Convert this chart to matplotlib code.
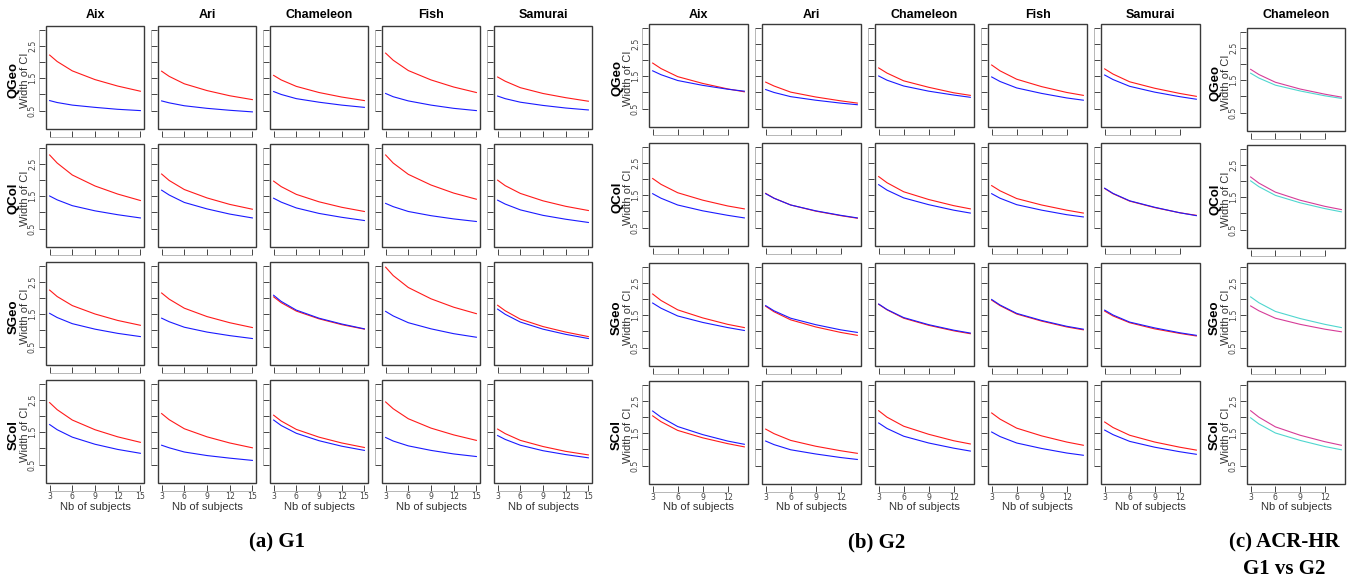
import matplotlib
matplotlib.use("Agg")
import matplotlib.pyplot as plt
from matplotlib.patches import Rectangle

W, H = 1351, 579

sites = ["Aix", "Ari", "Chameleon", "Fish", "Samurai"]
metrics = ["QGeo", "QCol", "SGeo", "SCol"]

n_g1 = [3, 4, 6, 9, 12, 15]
n_g2 = [3, 4, 6, 9, 12, 14]

# ---- (a) G1 : red / blue per site ----
g1_red_qgeo = [
    [2.22, 2.02, 1.73, 1.46, 1.26, 1.10],
    [1.72, 1.56, 1.33, 1.12, 0.96, 0.84],
    [1.59, 1.45, 1.25, 1.06, 0.92, 0.81],
    [2.28, 2.06, 1.74, 1.45, 1.23, 1.06],
    [1.54, 1.41, 1.21, 1.03, 0.90, 0.79],
]
g1_blue_qgeo = [
    [0.81, 0.75, 0.67, 0.60, 0.54, 0.50],
    [0.80, 0.74, 0.65, 0.57, 0.51, 0.46],
    [1.09, 1.00, 0.87, 0.76, 0.67, 0.60],
    [1.03, 0.93, 0.80, 0.67, 0.57, 0.50],
    [0.95, 0.87, 0.76, 0.66, 0.58, 0.52],
]
g1_red_qcol = [
    [2.78, 2.53, 2.16, 1.82, 1.57, 1.37],
    [2.19, 1.99, 1.71, 1.45, 1.25, 1.10],
    [1.97, 1.80, 1.56, 1.33, 1.16, 1.03],
    [2.78, 2.53, 2.18, 1.85, 1.60, 1.41],
    [2.00, 1.83, 1.59, 1.36, 1.19, 1.06],
]
g1_blue_qcol = [
    [1.51, 1.39, 1.21, 1.05, 0.93, 0.83],
    [1.69, 1.54, 1.31, 1.11, 0.95, 0.83],
    [1.44, 1.32, 1.14, 0.97, 0.85, 0.75],
    [1.28, 1.18, 1.03, 0.90, 0.80, 0.72],
    [1.38, 1.26, 1.08, 0.91, 0.79, 0.69],
]
g1_red_sgeo = [
    [2.25, 2.05, 1.77, 1.51, 1.31, 1.16],
    [2.16, 1.97, 1.69, 1.43, 1.24, 1.09],
    [2.04, 1.86, 1.60, 1.36, 1.18, 1.04],
    [2.96, 2.70, 2.33, 1.98, 1.72, 1.52],
    [1.78, 1.61, 1.35, 1.12, 0.95, 0.81],
]
g1_blue_sgeo = [
    [1.53, 1.40, 1.21, 1.04, 0.91, 0.81],
    [1.38, 1.27, 1.10, 0.95, 0.84, 0.75],
    [2.09, 1.90, 1.63, 1.38, 1.20, 1.05],
    [1.59, 1.45, 1.24, 1.05, 0.90, 0.79],
    [1.66, 1.50, 1.26, 1.04, 0.88, 0.75],
]
g1_red_scol = [
    [2.42, 2.20, 1.88, 1.58, 1.36, 1.19],
    [2.08, 1.89, 1.61, 1.36, 1.17, 1.02],
    [2.03, 1.85, 1.59, 1.35, 1.17, 1.03],
    [2.44, 2.23, 1.92, 1.63, 1.42, 1.25],
    [1.60, 1.46, 1.25, 1.06, 0.91, 0.80],
]
g1_blue_scol = [
    [1.74, 1.58, 1.35, 1.13, 0.97, 0.85],
    [1.10, 1.02, 0.89, 0.78, 0.70, 0.63],
    [1.88, 1.71, 1.47, 1.24, 1.07, 0.94],
    [1.34, 1.23, 1.08, 0.94, 0.83, 0.75],
    [1.40, 1.28, 1.10, 0.93, 0.81, 0.71],
]

# ---- (b) G2 ----
g2_red_qgeo = [
    [1.91, 1.74, 1.49, 1.28, 1.11, 1.02],
    [1.32, 1.20, 1.01, 0.86, 0.74, 0.67],
    [1.76, 1.60, 1.36, 1.16, 0.99, 0.91],
    [1.85, 1.67, 1.41, 1.18, 1.00, 0.91],
    [1.73, 1.57, 1.33, 1.13, 0.97, 0.88],
]
g2_blue_qgeo = [
    [1.67, 1.55, 1.37, 1.22, 1.10, 1.04],
    [1.09, 1.00, 0.87, 0.76, 0.67, 0.62],
    [1.51, 1.38, 1.20, 1.04, 0.92, 0.85],
    [1.48, 1.34, 1.14, 0.97, 0.83, 0.76],
    [1.54, 1.40, 1.19, 1.01, 0.87, 0.79],
]
g2_red_qcol = [
    [2.02, 1.84, 1.58, 1.35, 1.17, 1.08],
    [1.56, 1.41, 1.20, 1.01, 0.87, 0.79],
    [2.08, 1.89, 1.61, 1.37, 1.18, 1.08],
    [1.80, 1.64, 1.40, 1.20, 1.04, 0.95],
    [1.71, 1.55, 1.32, 1.12, 0.96, 0.88],
]
g2_blue_qcol = [
    [1.55, 1.41, 1.20, 1.02, 0.88, 0.80],
    [1.55, 1.41, 1.20, 1.02, 0.88, 0.80],
    [1.83, 1.66, 1.42, 1.21, 1.04, 0.95],
    [1.55, 1.41, 1.21, 1.04, 0.90, 0.83],
    [1.72, 1.56, 1.33, 1.13, 0.96, 0.87],
]
g2_red_sgeo = [
    [2.16, 1.96, 1.67, 1.42, 1.22, 1.12],
    [1.78, 1.61, 1.36, 1.14, 0.97, 0.88],
    [1.84, 1.67, 1.41, 1.19, 1.02, 0.93],
    [1.97, 1.80, 1.54, 1.32, 1.14, 1.05],
    [1.63, 1.48, 1.27, 1.08, 0.94, 0.86],
]
g2_blue_sgeo = [
    [1.88, 1.72, 1.48, 1.28, 1.12, 1.03],
    [1.80, 1.64, 1.41, 1.21, 1.05, 0.97],
    [1.85, 1.68, 1.43, 1.21, 1.04, 0.95],
    [1.99, 1.82, 1.56, 1.34, 1.16, 1.07],
    [1.66, 1.51, 1.29, 1.11, 0.96, 0.88],
]
g2_red_scol = [
    [2.04, 1.86, 1.59, 1.36, 1.18, 1.08],
    [1.63, 1.49, 1.28, 1.10, 0.96, 0.88],
    [2.20, 2.00, 1.72, 1.47, 1.27, 1.17],
    [2.13, 1.94, 1.66, 1.42, 1.23, 1.13],
    [1.85, 1.68, 1.44, 1.23, 1.07, 0.98],
]
g2_blue_scol = [
    [2.19, 2.00, 1.71, 1.46, 1.26, 1.16],
    [1.26, 1.15, 0.99, 0.86, 0.75, 0.69],
    [1.82, 1.65, 1.41, 1.20, 1.04, 0.95],
    [1.54, 1.40, 1.20, 1.03, 0.89, 0.82],
    [1.60, 1.46, 1.25, 1.07, 0.93, 0.85],
]

# ---- (c) ACR-HR Chameleon, G1 (magenta) vs G2 (cyan) ----
acr_magenta = [
    [1.84, 1.68, 1.44, 1.23, 1.07, 0.98],
    [2.13, 1.94, 1.66, 1.41, 1.22, 1.12],
    [1.79, 1.64, 1.41, 1.22, 1.07, 0.99],
    [2.20, 2.00, 1.70, 1.44, 1.24, 1.13],
]
acr_cyan = [
    [1.72, 1.57, 1.35, 1.17, 1.02, 0.94],
    [2.01, 1.83, 1.56, 1.33, 1.15, 1.05],
    [2.07, 1.89, 1.62, 1.40, 1.22, 1.12],
    [1.98, 1.79, 1.51, 1.28, 1.09, 0.99],
]

g1_red = [g1_red_qgeo, g1_red_qcol, g1_red_sgeo, g1_red_scol]
g1_blue = [g1_blue_qgeo, g1_blue_qcol, g1_blue_sgeo, g1_blue_scol]
g2_red = [g2_red_qgeo, g2_red_qcol, g2_red_sgeo, g2_red_scol]
g2_blue = [g2_blue_qgeo, g2_blue_qcol, g2_blue_sgeo, g2_blue_scol]

yticks = [0.5, 1.0, 1.5, 2.0, 2.5, 3.0]
ytick_labels = ["0.5", "", "1.5", "", "2.5", ""]

BOX = "#3a3a3a"
RED = "#ff1a1a"
BLUE = "#1a1aff"
MAG = "#d63c98"
CYAN = "#4fd6cf"
XLAB_Y = 507


def px_box(left, top, w, h):
    return [left / W, 1 - (top + h) / H, w / W, h / H]


def setup(ax, xticks, xlim, show_x, show_y):
    ax.set_xlim(*xlim)
    ax.set_ylim(-0.07, 3.12)
    for s in ["top", "right"]:
        ax.spines[s].set_visible(False)
    ax.spines["left"].set_position(("outward", 5))
    ax.spines["bottom"].set_position(("outward", 6))
    for s in ["left", "bottom"]:
        ax.spines[s].set_color("#9a9a9a")
        ax.spines[s].set_linewidth(0.5)
    ax.spines["left"].set_bounds(0.5, 3.0)
    ax.spines["bottom"].set_bounds(xticks[0], xticks[-1])
    ax.add_patch(Rectangle((0, 0), 1, 1, transform=ax.transAxes, fill=False,
                           edgecolor=BOX, lw=1.0, clip_on=False, zorder=5))
    ax.set_yticks(yticks)
    ax.set_yticklabels(ytick_labels if show_y else [""] * len(yticks))
    ax.set_xticks(xticks)
    ax.set_xticklabels([str(t) for t in xticks] if show_x else [""] * len(xticks))
    ax.tick_params(axis="both", direction="in", length=4, width=0.7,
                   color="#444444", labelsize=5.6, labelcolor="#444444")
    ax.tick_params(axis="y", pad=1.5)
    ax.tick_params(axis="x", pad=0.3)
    for lab in ax.get_yticklabels():
        lab.set_rotation(90)
        lab.set_va("center")


fig = plt.figure(figsize=(W / 100, H / 100), dpi=100)


def row_labels(box_left, row_top, h, metric):
    yc = 1 - (row_top + h / 2 + 3) / H
    fig.text((box_left - 32) / W, yc, metric, rotation=90, ha="center", va="center",
             fontsize=9.5, fontweight="bold", family="Liberation Sans", color="black")
    fig.text((box_left - 21) / W, yc, "Width of CI", rotation=90, ha="center", va="center",
             fontsize=8, family="Liberation Sans", color="#333333")


def draw_group(lefts, tops, w, h, xs, xticks, xlim, reds, blues, titles):
    for c, left in enumerate(lefts):
        for r, top in enumerate(tops):
            ax = fig.add_axes(px_box(left, top, w, h))
            setup(ax, xticks, xlim, r == len(tops) - 1, c == 0)
            ax.plot(xs, reds[r][c], color=RED, lw=0.8)
            ax.plot(xs, blues[r][c], color=BLUE, lw=0.8)
            if r == 0:
                fig.text((left + w / 2) / W, 1 - 15 / H, titles[c], ha="center", va="center",
                         fontsize=9, fontweight="bold", family="Liberation Sans")
            if c == 0:
                row_labels(left, top, h, metrics[r])
            if r == len(tops) - 1:
                fig.text((left + w / 2) / W, 1 - XLAB_Y / H, "Nb of subjects", ha="center",
                         va="center", fontsize=8, family="Liberation Sans", color="#333333")


# (a) G1
draw_group([46 + 112 * c for c in range(5)], [26, 144, 262, 380], 98, 103,
           n_g1, [3, 6, 9, 12, 15], (2.52, 15.48), g1_red, g1_blue, sites)
# (b) G2
draw_group([649 + 113 * c for c in range(5)], [24, 143, 263, 381], 99, 103,
           n_g2, [3, 6, 9, 12], (2.56, 14.44), g2_red, g2_blue, sites)

# (c) ACR-HR
c_left = 1247
c_tops = [28, 145, 263, 381]
for r, top in enumerate(c_tops):
    ax = fig.add_axes(px_box(c_left, top, 98, 103))
    setup(ax, [3, 6, 9, 12], (2.56, 14.44), r == 3, True)
    ax.plot(n_g2, acr_cyan[r], color=CYAN, lw=0.8)
    ax.plot(n_g2, acr_magenta[r], color=MAG, lw=0.8)
    row_labels(c_left, top, 103, metrics[r])
    if r == 0:
        fig.text((c_left + 49) / W, 1 - 15 / H, "Chameleon", ha="center", va="center",
                 fontsize=9, fontweight="bold", family="Liberation Sans")
    if r == 3:
        fig.text((c_left + 49) / W, 1 - XLAB_Y / H, "Nb of subjects", ha="center",
                 va="center", fontsize=8, family="Liberation Sans", color="#333333")

# captions
cap = dict(ha="center", va="center", fontsize=15, fontweight="bold",
           family="Liberation Serif", color="black")
fig.text(277 / W, 1 - 542 / H, "(a) G1", **cap)
fig.text(877 / W, 1 - 542 / H, "(b) G2", **cap)
fig.text(1284 / W, 1 - 542 / H, "(c) ACR-HR", **cap)
fig.text(1284 / W, 1 - 569 / H, "G1 vs G2", **cap)

fig.savefig("out.png", dpi=100)
